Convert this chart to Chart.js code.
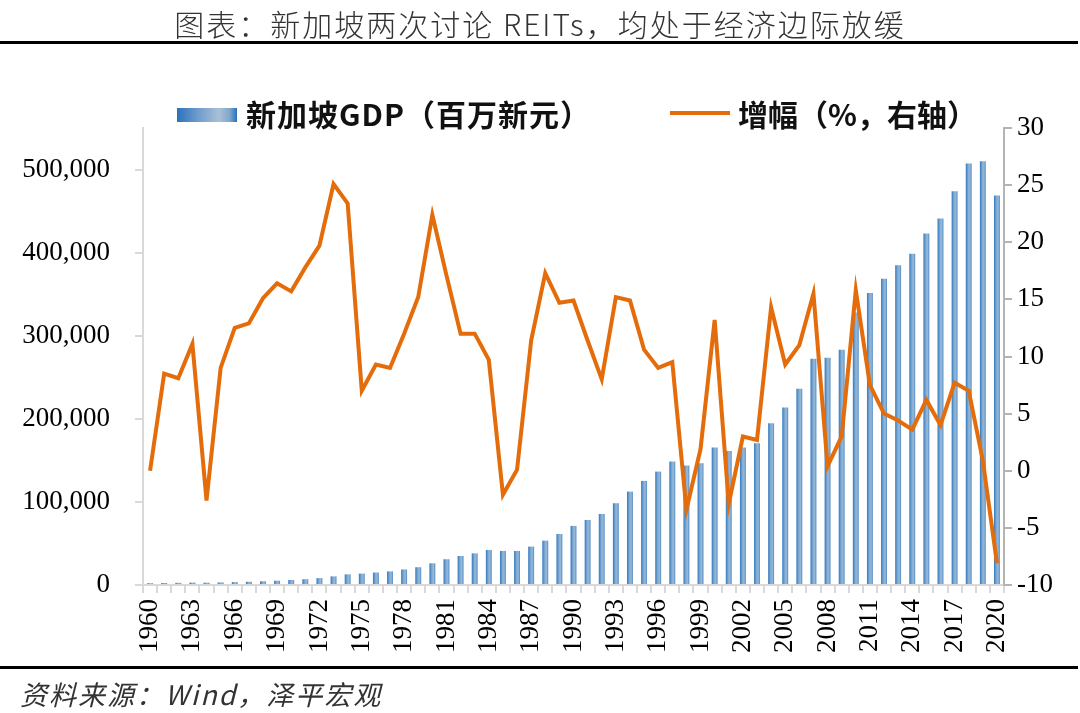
<!DOCTYPE html>
<html>
<head>
<meta charset="utf-8">
<script src="https://cdn.jsdelivr.net/npm/chart.js@4.4.1/dist/chart.umd.min.js"></script>
<style>
  html, body { margin: 0; padding: 0; background: #fff; }
  #wrap { position: relative; width: 1080px; height: 713px; overflow: hidden; }
  #chartBox { position: absolute; left: 0; top: 0; width: 1080px; height: 713px; }
  .title {
    position: absolute; left: 0; width: 1080px; top: 1px; text-align: center;
    font-family: "Noto Sans CJK SC", sans-serif; font-size: 30px; color: #333;
    letter-spacing: 2px; font-weight: 300;
  }
  .rule { position: absolute; left: 0; width: 1078px; height: 3px; background: #000; }
  .legend { position: absolute; top: 95px; font-family: "Noto Sans CJK SC", sans-serif;
    font-weight: bold; font-size: 30px; color: #111; line-height: 36px; white-space: nowrap; }
  .swatchBar { position: absolute; left: 177px; top: 108px; width: 60px; height: 14px;
    background: linear-gradient(to right, #2a72bd 0%, #6f9ccb 35%, #a9c0d6 70%, #7fa6cc 88%, #2a72bd 100%); }
  .swatchLine { position: absolute; left: 670px; top: 111px; width: 60px; height: 4px; background: #e46c0a; }
  .source { position: absolute; left: 20px; top: 674px; font-family: "Noto Sans CJK SC", sans-serif;
    font-style: italic; font-size: 27px; color: #333; letter-spacing: 2px; }
</style>
</head>
<body>
<div id="wrap">
  <div id="chartBox"><canvas id="gdpChart"></canvas></div>
  <div class="title">图表：新加坡两次讨论 REITs，均处于经济边际放缓</div>
  <div class="rule" style="top:41px"></div>
  <div class="swatchBar"></div>
  <div class="legend" style="left:246px; letter-spacing:1px">新加坡GDP（百万新元）</div>
  <div class="swatchLine"></div>
  <div class="legend" style="left:738px; letter-spacing:0px">增幅（%，右轴）</div>
  <div class="rule" style="top:666px"></div>
  <div class="source">资料来源：Wind，泽平宏观</div>
</div>
<script>
// năm 1960 - 2020
const years = [];
for (let y = 1960; y <= 2020; y++) years.push(String(y));

// GDP danh nghĩa (百万新元)
const gdpValues = [
  2200, 2400, 2600, 2900, 2800, 3100, 3500, 3900, 4500, 5200,
  6000, 7000, 8300, 10400, 12800, 13700, 15000, 16400, 18700, 21400,
  26100, 31000, 34900, 38100, 42200, 41000, 41000, 46200, 53400, 61400,
  71100, 78300, 85500, 98400, 112400, 125300, 136500, 148600, 143800, 146600,
  165400, 161400, 165400, 170700, 194800, 213600, 236100, 272300, 273500, 283100,
  328000, 351400, 368700, 384700, 398800, 422900, 441000, 473900, 507200, 510000,
  468700
];

// 增幅 (%), trục phải
const growthValues = [
  0, 8.5, 8.1, 11.1, -2.6, 9.0, 12.5, 12.9, 15.1, 16.4,
  15.7, 17.8, 19.7, 25.1, 23.4, 7.0, 9.3, 9.0, 12.0, 15.2,
  22.4, 17.1, 12.0, 12.0, 9.7, -2.1, 0.1, 11.4, 17.3, 14.7,
  14.9, 11.4, 8.0, 15.2, 14.9, 10.6, 9.0, 9.5, -3.4, 1.9,
  13.2, -2.9, 3.0, 2.7, 14.3, 9.3, 11.0, 15.5, 0.4, 3.0,
  15.8, 7.5, 5.0, 4.4, 3.6, 6.2, 4.0, 7.7, 7.0, 0.9,
  -8.1
];

const leftTicks = [0, 100000, 200000, 300000, 400000, 500000];
const rightTicks = [-10, -5, 0, 5, 10, 15, 20, 25, 30];

const BAR_FRAC = 0.42;
const tickFont = { family: '"Liberation Serif", "Times New Roman", serif', size: 27 };

// màu gradient cho từng cột
function barFill(c) {
  const xs = c.chart.scales.x;
  if (!xs || c.dataIndex === undefined) return '#5b9bd5';
  const cx = xs.getPixelForValue(c.dataIndex);
  const hw = (xs.width / years.length) * BAR_FRAC / 2;
  if (!isFinite(cx) || !isFinite(hw) || hw <= 0) return '#5b9bd5';
  const g = c.chart.ctx.createLinearGradient(cx - hw, 0, cx + hw, 0);
  g.addColorStop(0, '#3079c0');
  g.addColorStop(0.45, '#86aed4');
  g.addColorStop(0.7, '#95b7d7');
  g.addColorStop(1, '#4f8ac4');
  return g;
}

const ctx = document.getElementById('gdpChart').getContext('2d');
new Chart(ctx, {
  type: 'bar',
  data: {
    labels: years,
    datasets: [
      {
        type: 'line',
        label: '增幅（%，右轴）',
        data: growthValues,
        yAxisID: 'y1',
        borderColor: '#e46c0a',
        backgroundColor: '#e46c0a',
        borderWidth: 4,
        pointRadius: 0,
        tension: 0,
        order: 0
      },
      {
        type: 'bar',
        label: '新加坡GDP（百万新元）',
        data: gdpValues,
        yAxisID: 'y',
        backgroundColor: barFill,
        barPercentage: BAR_FRAC,
        categoryPercentage: 1,
        order: 1
      }
    ]
  },
  options: {
    responsive: true,
    maintainAspectRatio: false,
    animation: false,
    layout: { padding: { top: 128, left: 0, right: 0, bottom: 0 } },
    plugins: {
      legend: { display: false },
      tooltip: { enabled: false }
    },
    scales: {
      x: {
        offset: true,
        grid: { offset: true, drawOnChartArea: false, drawTicks: true, tickLength: 8, color: '#d9d9d9', lineWidth: 2 },
        border: { color: '#d9d9d9', width: 2 },
        ticks: {
          autoSkip: false, maxRotation: 90, minRotation: 90, padding: 6,
          color: '#000', font: tickFont,
          callback: (v, i) => (i % 3 === 0 ? years[i] : '')
        },
        afterFit: (s) => { s.height = 128; }
      },
      y: {
        position: 'left',
        min: 0, max: 550000,
        afterBuildTicks: (s) => { s.ticks = leftTicks.map(v => ({ value: v })); },
        grid: { drawOnChartArea: false, tickLength: 8, color: '#d9d9d9', lineWidth: 2 },
        border: { color: '#d9d9d9', width: 2 },
        ticks: {
          padding: 25, color: '#000', font: tickFont,
          callback: (v) => Number(v).toLocaleString('en-US')
        },
        afterFit: (s) => { s.width = 143; }
      },
      y1: {
        position: 'right',
        min: -10, max: 30,
        afterBuildTicks: (s) => { s.ticks = rightTicks.map(v => ({ value: v })); },
        grid: { drawOnChartArea: false, tickLength: 8, color: '#b4b4b4', lineWidth: 2 },
        border: { color: '#b4b4b4', width: 2 },
        ticks: { padding: 5, color: '#000', font: tickFont },
        afterFit: (s) => { s.width = 76; }
      }
    }
  }
});
</script>
</body>
</html>
